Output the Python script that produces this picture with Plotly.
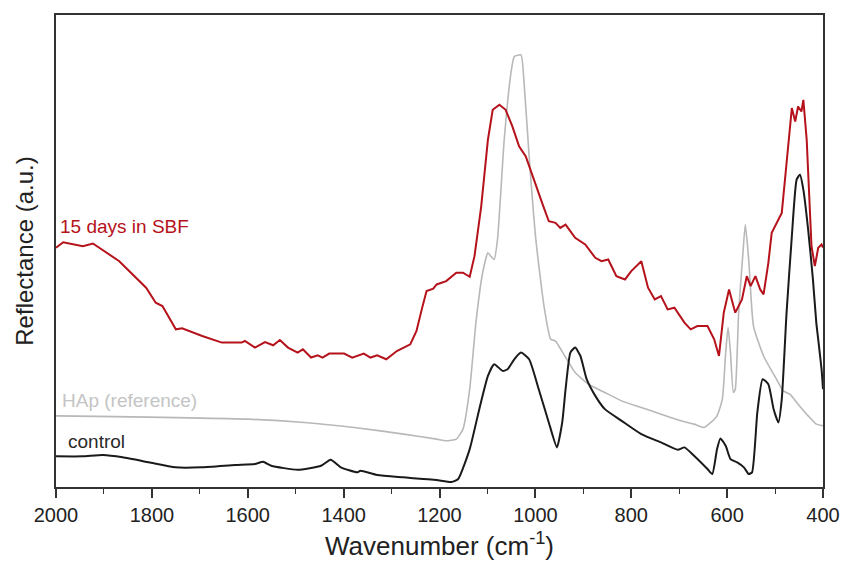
import plotly.graph_objects as go

# FTIR reflectance spectra (arbitrary units, curves offset vertically)
sbf_wavenumber = [2000, 1985, 1944, 1923, 1868, 1812, 1792, 1778, 1750, 1737, 1695, 1654, 1613, 1606,
                  1585, 1564, 1547, 1533, 1516, 1496, 1485, 1468, 1454, 1444, 1430, 1399, 1382, 1358,
                  1344, 1330, 1311, 1289, 1261, 1248, 1237, 1227, 1213, 1206, 1186, 1165, 1151, 1137,
                  1127, 1113, 1099, 1089, 1075, 1062, 1048, 1034, 1020, 1006, 986, 972, 958, 948, 937,
                  917, 896, 875, 862, 848, 831, 813, 800, 779, 765, 751, 738, 724, 710, 689, 676, 662,
                  641, 627, 617, 607, 596, 583, 569, 559, 551, 541, 531, 524, 514, 507, 486, 476, 465,
                  458, 452, 445, 441, 434, 424, 417, 410, 403, 400]
sbf_reflectance = [239.7, 245.3, 241.3, 244, 226.3, 199.7, 184.7, 181.3, 158, 159, 151.3, 144.7, 144.7,
                   146.3, 139.7, 145.3, 142, 147.3, 139.7, 134.7, 138, 129.7, 132, 129.7, 133.7, 133.7,
                   129.7, 133.7, 129.7, 132, 128, 136.3, 143, 156.3, 178, 196.3, 198.7, 203, 206.3,
                   214.7, 214.7, 210.7, 231.3, 281.3, 348, 378, 383, 378, 361.3, 341.3, 331.3, 311.3,
                   284.7, 266.3, 264.7, 259.7, 263, 249.7, 243, 229.7, 226.3, 228, 211.3, 208, 216.3,
                   226.3, 199.7, 188, 191.3, 178, 179.7, 164.7, 158, 161.3, 161.3, 148, 131.3, 174.7,
                   198, 174.7, 188, 211.3, 201.3, 211.3, 198, 193, 224.7, 254.7, 274.7, 324.7, 379.7,
                   366.3, 381.3, 376.3, 388, 348, 241.3, 221.3, 239.7, 243, 240]

hap_wavenumber = [2000, 1599, 1482, 1378, 1275, 1206, 1186, 1165, 1151, 1137, 1124, 1110, 1099, 1093,
                  1086, 1079, 1065, 1051, 1044, 1030, 1024, 1013, 999, 982, 968, 958, 951, 937, 917,
                  889, 855, 820, 779, 738, 696, 669, 648, 634, 621, 610, 603, 598, 593, 587, 583, 576,
                  567, 562, 555, 545, 524, 497, 483, 469, 452, 431, 414, 400]
hap_reflectance = [71.3, 68, 64.7, 59.7, 53, 48, 46.3, 48, 58, 98, 164.7, 214.7, 234.7, 231.3, 228,
                   248, 348, 414.7, 431.3, 433, 408, 331.3, 248, 181.3, 148, 146.3, 141.3, 130, 114.7,
                   103, 94.7, 86.3, 79.7, 73, 66.3, 63, 59.7, 64.7, 71.3, 88, 134.7, 159.7, 134.7, 94.7,
                   98, 174.7, 234.7, 263, 228, 161.3, 131.3, 108, 96.3, 93, 83, 71.3, 63, 61.3]

control_wavenumber = [2000, 1944, 1902, 1861, 1806, 1751, 1696, 1626, 1585, 1568, 1551, 1496, 1447,
                      1427, 1406, 1372, 1365, 1330, 1275, 1234, 1206, 1175, 1161, 1137, 1117, 1099,
                      1086, 1068, 1058, 1044, 1030, 1013, 993, 972, 955, 944, 937, 927, 917, 906, 893,
                      875, 855, 820, 779, 738, 703, 689, 669, 641, 631, 621, 614, 603, 593, 579, 565,
                      555, 548, 537, 526, 514, 503, 493, 486, 476, 465, 455, 448, 441, 431, 421, 414,
                      410, 403, 400]
control_reflectance = [30.7, 30.7, 32, 29.7, 24.7, 19.7, 19.7, 22, 23, 25.3, 21.3, 17.3, 21.3, 27.3,
                       19.7, 14.7, 16.3, 12, 9.7, 8, 7, 5, 8, 38, 78, 111.3, 123, 116.3, 118, 128,
                       134.7, 128, 98, 64.7, 39.7, 64.7, 98, 134.7, 139.7, 131.3, 108, 91.3, 78, 66.3,
                       53, 44.7, 37.3, 39.7, 31.3, 18, 13, 38, 48.7, 41.3, 28, 24.7, 19.7, 13, 14.7,
                       74.7, 108, 103, 78, 64.7, 88, 174.7, 251.3, 308, 313, 298, 258, 208, 164.7, 148,
                       118, 98]

series_names = ["15 days in SBF", "HAp (reference)", "control"]
series_colors = ["#b5121b", "#b8b8b8", "#1a1a1a"]
label_colors = ["#b5121b", "#c4c4c4", "#2a2a2a"]
label_positions = [(1996, 261), (1992, 87), (1979, 46)]

x_ticks = [2000, 1800, 1600, 1400, 1200, 1000, 800, 600, 400]

FONT = "Arial, 'Liberation Sans', sans-serif"

fig = go.Figure()
for name, xs, ys, color, width, shape in [
    (series_names[1], hap_wavenumber, hap_reflectance, series_colors[1], 1.6, "spline"),
    (series_names[2], control_wavenumber, control_reflectance, series_colors[2], 2.0, "spline"),
    (series_names[0], sbf_wavenumber, sbf_reflectance, series_colors[0], 2.0, "linear"),
]:
    fig.add_trace(go.Scatter(x=xs, y=ys, mode="lines", name=name,
                             line=dict(color=color, width=width, shape=shape, smoothing=0.5),
                             showlegend=False))

for name, color, (lx, ly) in zip(series_names, label_colors, label_positions):
    fig.add_annotation(x=lx, y=ly, xref="x", yref="y", text=name, showarrow=False,
                       xanchor="left", yanchor="middle",
                       font=dict(family=FONT, size=19, color=color))

fig.update_layout(
    width=852, height=568,
    margin=dict(l=56, r=22, t=15, b=80),
    paper_bgcolor="white", plot_bgcolor="white",
    font=dict(family=FONT, color="#222"),
    xaxis=dict(
        range=[2000, 400], tickvals=x_ticks, ticktext=[str(v) for v in x_ticks],
        ticks="outside", ticklen=9, tickwidth=1.5, tickcolor="#333",
        minor=dict(ticks="outside", ticklen=5, tickwidth=1.2, tickcolor="#333", dtick=100),
        showline=True, linecolor="#333", linewidth=2, mirror=True,
        showgrid=False, zeroline=False,
        tickfont=dict(family=FONT, size=20, color="#222"),
        title=dict(text="Wavenumber (cm<sup>-1</sup>)", font=dict(family=FONT, size=26, color="#222"),
                   standoff=12),
    ),
    yaxis=dict(
        range=[0, 473], showticklabels=False, ticks="",
        showline=True, linecolor="#333", linewidth=2, mirror=True,
        showgrid=False, zeroline=False,
        title=dict(text="Reflectance (a.u.)", font=dict(family=FONT, size=24, color="#222"),
                   standoff=14),
    ),
)

fig.write_html("out.html")
